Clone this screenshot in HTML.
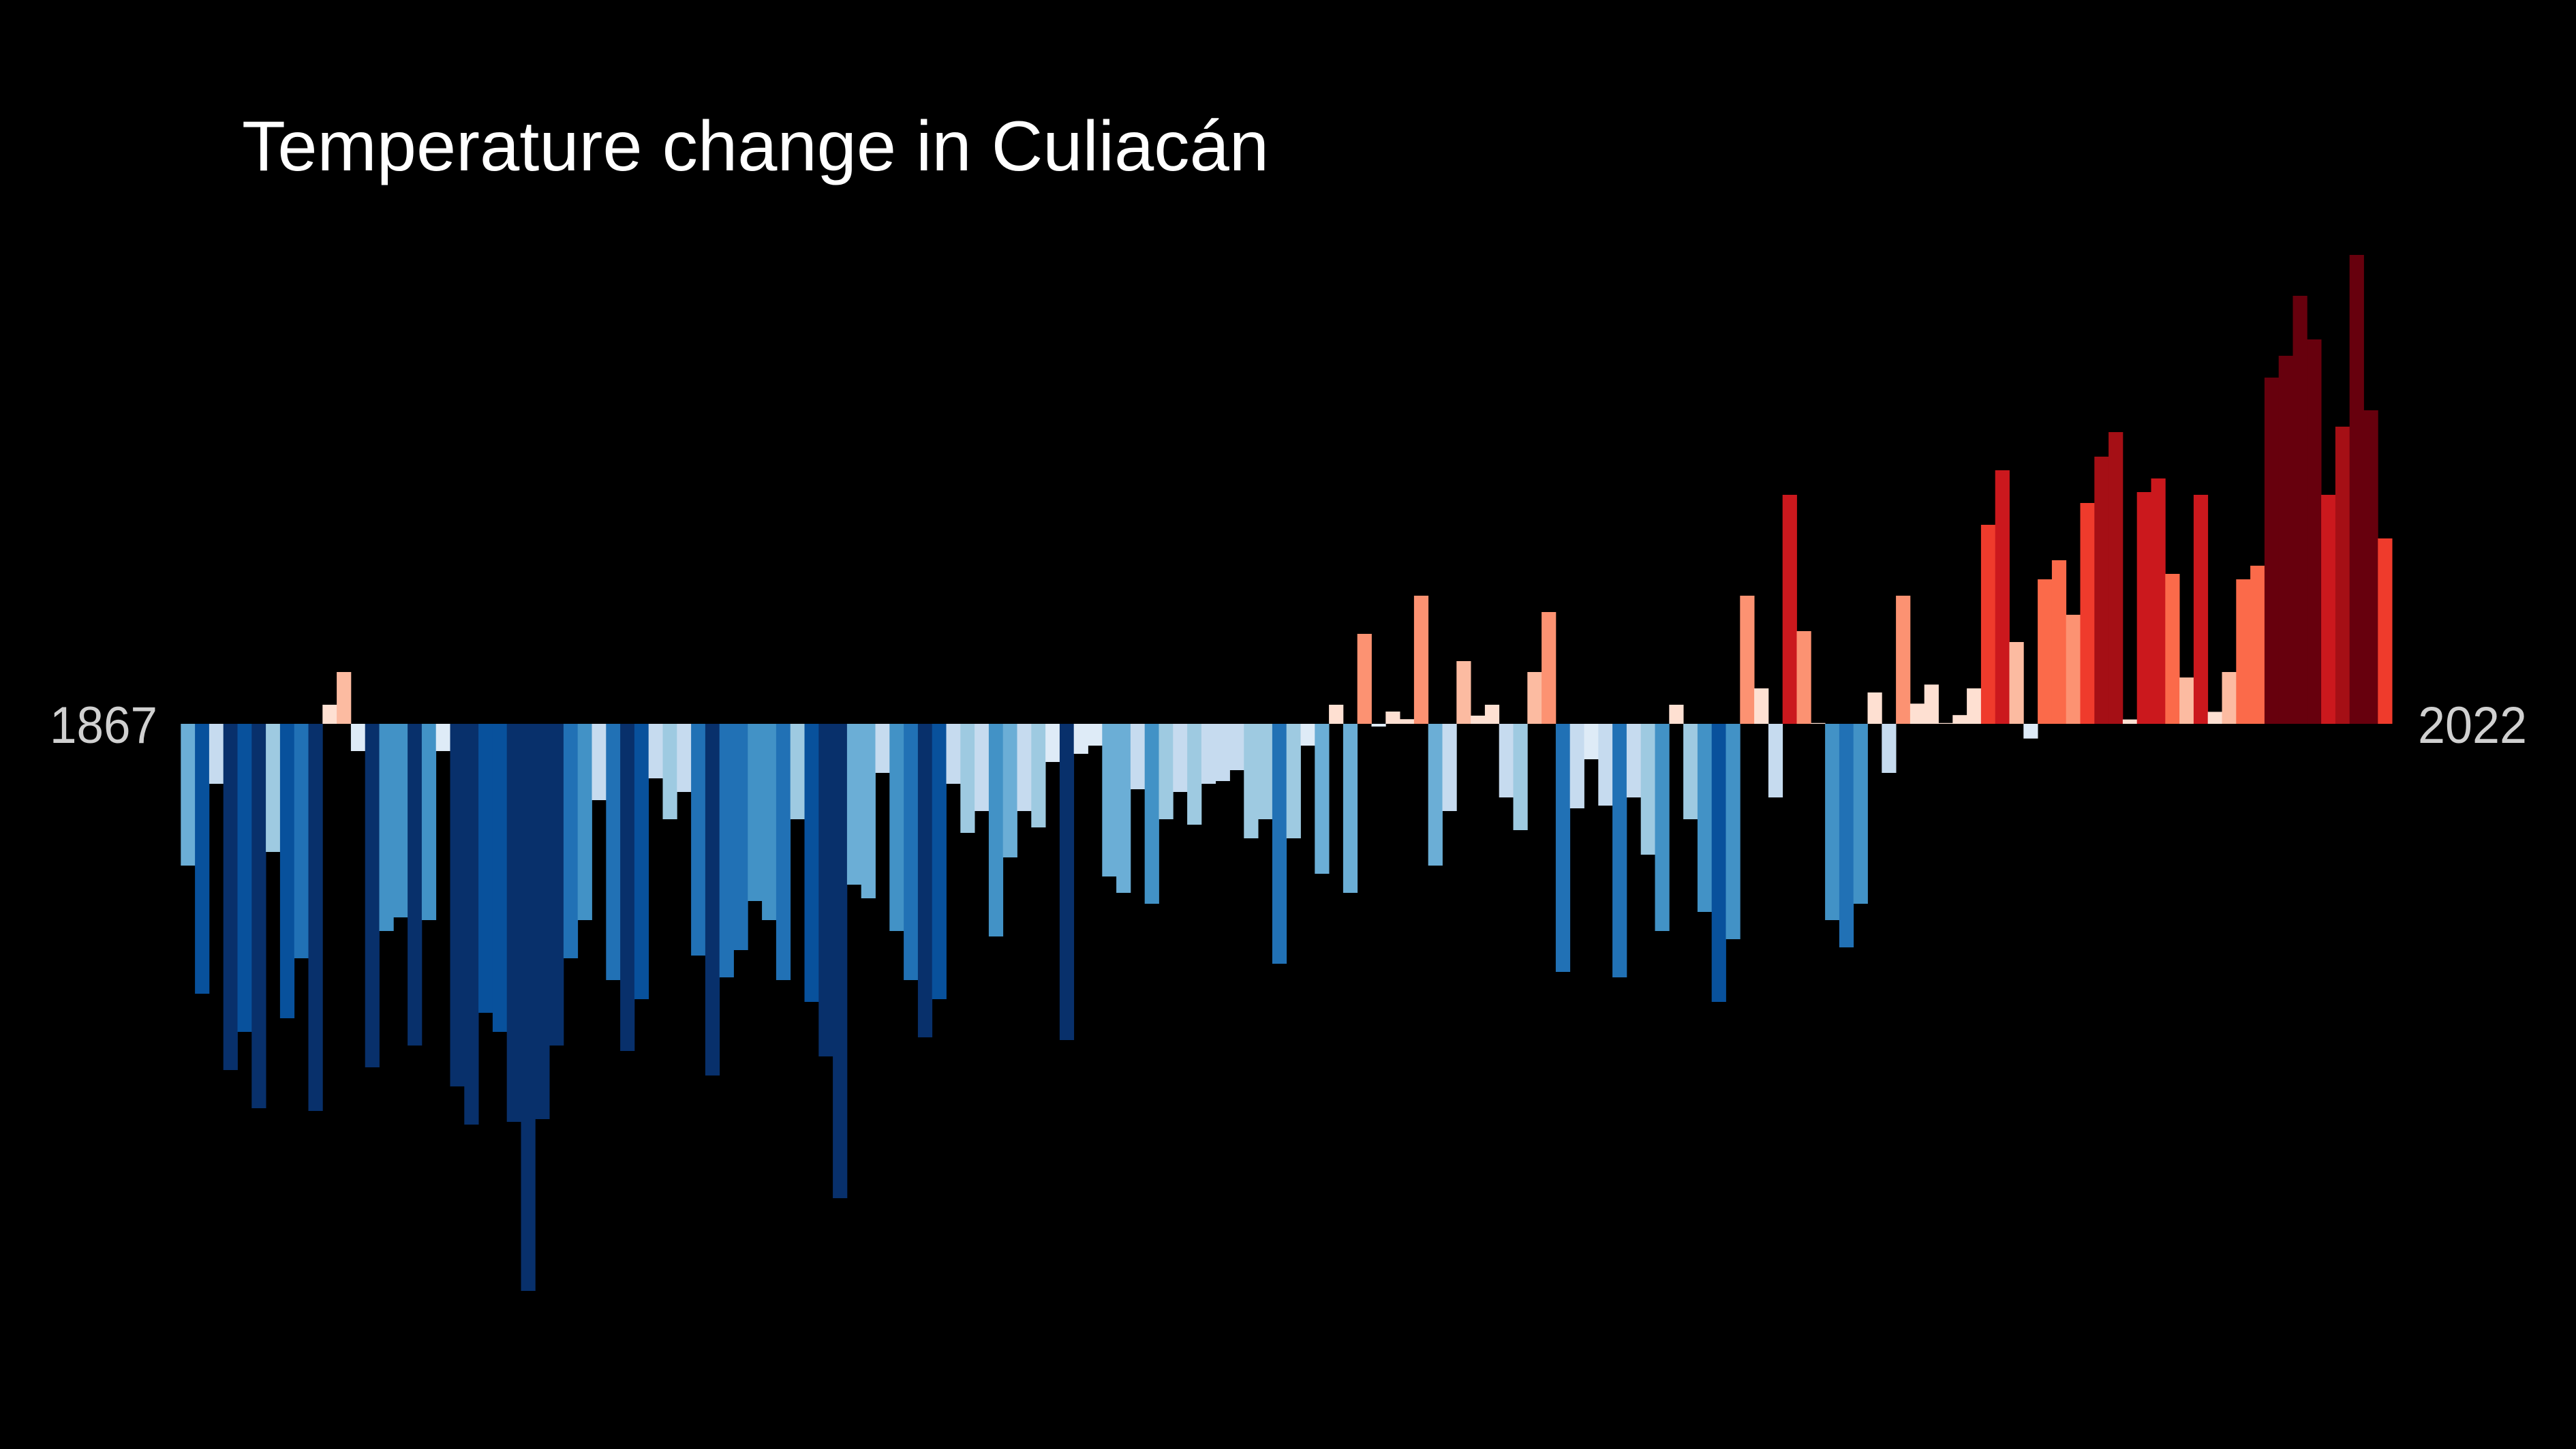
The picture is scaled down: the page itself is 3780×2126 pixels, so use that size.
<!DOCTYPE html>
<html><head><meta charset="utf-8">
<style>
html,body{margin:0;padding:0;background:#000;}
svg{display:block;}
</style></head>
<body>
<svg id="chart" width="3780" height="2126" viewBox="0 0 3780 2126" xmlns="http://www.w3.org/2000/svg">
<rect x="0" y="0" width="3780" height="2126" fill="#000"/>
<text x="355" y="250" font-family="Liberation Sans, sans-serif" font-size="104" fill="#ffffff" textLength="1507" lengthAdjust="spacingAndGlyphs">Temperature change in Culiacán</text>
<text id="startLabel" x="73" y="1090" font-family="Liberation Sans, sans-serif" font-size="76" fill="#d0d0d0" textLength="158" lengthAdjust="spacingAndGlyphs"></text>
<text id="endLabel" x="3548" y="1090" font-family="Liberation Sans, sans-serif" font-size="76" fill="#d0d0d0" textLength="160" lengthAdjust="spacingAndGlyphs"></text>
<g id="bars"></g>
</svg>
<script>
const firstYear = 1867;
const lastYear = 2022;
const anomalies = [
-0.52,-0.99,-0.22,-1.27,-1.13,-1.41,-0.47,-1.08,-0.86,-1.42,
0.07,0.19,-0.10,-1.26,-0.76,-0.71,-1.18,-0.72,-0.10,-1.33,
-1.47,-1.06,-1.13,-1.46,-2.08,-1.45,-1.18,-0.86,-0.72,-0.28,
-0.94,-1.20,-1.01,-0.20,-0.35,-0.25,-0.85,-1.29,-0.93,-0.83,
-0.65,-0.72,-0.94,-0.35,-1.02,-1.22,-1.74,-0.59,-0.64,-0.18,
-0.76,-0.94,-1.15,-1.01,-0.22,-0.40,-0.32,-0.78,-0.49,-0.32,
-0.38,-0.14,-1.16,-0.11,-0.08,-0.56,-0.62,-0.24,-0.66,-0.35,
-0.25,-0.37,-0.22,-0.21,-0.17,-0.42,-0.35,-0.88,-0.42,-0.08,
-0.55,0.07,-0.62,0.33,-0.01,0.045,0.017,0.47,-0.52,-0.32,
0.23,0.03,0.07,-0.27,-0.39,0.19,0.41,-0.91,-0.31,-0.13,
-0.30,-0.93,-0.27,-0.48,-0.76,0.07,-0.35,-0.69,-1.02,-0.79,
0.47,0.13,-0.27,0.84,0.34,0.003,-0.72,-0.82,-0.66,0.115,
-0.18,0.47,0.074,0.144,0.003,0.032,0.13,0.73,0.93,0.30,
-0.054,0.53,0.60,0.40,0.81,0.98,1.07,0.016,0.85,0.90,
0.55,0.17,0.84,0.044,0.19,0.53,0.58,1.27,1.35,1.57,
1.41,0.84,1.09,1.72,1.15,0.68
];
const thresholds = [0.15,0.325,0.49,0.645,0.82,0.96,1.14];
const warmColors = ["#fee0d2","#fcbba1","#fc9272","#fb6a4a","#ef3b2c","#cb181d","#a50f15","#67000d"];
const coolColors = ["#deebf7","#c6dbef","#9ecae1","#6baed6","#4292c6","#2171b5","#08519c","#08306b"];

const X0 = 265.3, STEP = 20.8, ZERO = 1062, PX_PER_UNIT = 400;
function xScale(i){ return X0 + i*STEP; }
function yScale(v){ return ZERO - v*PX_PER_UNIT; }
function colorFor(v){
  const a = Math.abs(v); let k = 0;
  while (k < thresholds.length && a >= thresholds[k]) k++;
  return v >= 0 ? warmColors[k] : coolColors[k];
}
const NS = "http://www.w3.org/2000/svg";
const g = document.getElementById("bars");
anomalies.forEach((v,i)=>{
  const r = document.createElementNS(NS,"rect");
  const y0 = yScale(0), y1 = yScale(v);
  r.setAttribute("x", xScale(i));
  r.setAttribute("width", STEP + 0.4);
  r.setAttribute("y", Math.min(y0,y1));
  r.setAttribute("height", Math.max(Math.abs(y1-y0), 0.5));
  r.setAttribute("fill", colorFor(v));
  
  
  g.appendChild(r);
});
document.getElementById("startLabel").textContent = String(firstYear);
document.getElementById("endLabel").textContent = String(lastYear);
</script>
</body></html>
